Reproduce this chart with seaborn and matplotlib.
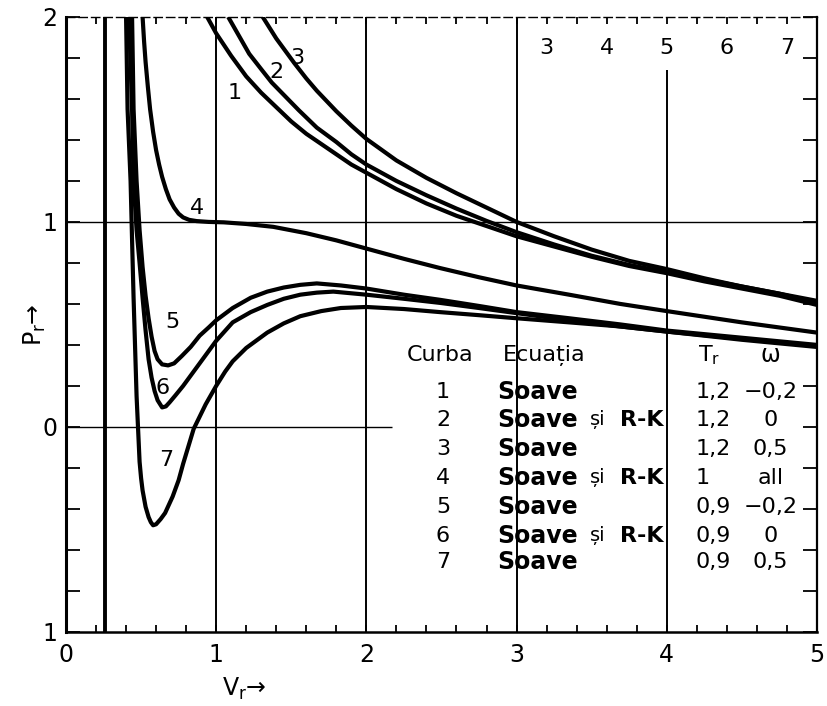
import numpy as np
import pandas as pd
import seaborn as sns
import matplotlib.pyplot as plt
from matplotlib.ticker import MultipleLocator, FixedLocator

# izoterme (V_r, P_r)
v1 = [0.94, 1.0, 1.1, 1.2, 1.3, 1.4, 1.5, 1.6, 1.7, 1.8, 1.9, 2.0, 2.2, 2.4, 2.6, 2.8, 3.0, 3.25, 3.5, 3.75, 4.0, 4.25, 4.5, 4.75, 5.0]
p1 = [2.0, 1.92, 1.81, 1.71, 1.63, 1.56, 1.49, 1.43, 1.38, 1.33, 1.28, 1.24, 1.16, 1.09, 1.03, 0.98, 0.93, 0.88, 0.83, 0.785, 0.75, 0.71, 0.675, 0.64, 0.595]

v2 = [1.08, 1.15, 1.22, 1.30, 1.37, 1.45, 1.55, 1.67, 1.8, 1.9, 2.0, 2.2, 2.4, 2.6, 2.8, 3.0, 3.25, 3.5, 3.75, 4.0, 4.25, 4.5, 4.75, 5.0]
p2 = [2.0, 1.91, 1.82, 1.745, 1.68, 1.62, 1.545, 1.46, 1.39, 1.33, 1.28, 1.20, 1.13, 1.065, 1.005, 0.95, 0.89, 0.835, 0.79, 0.755, 0.72, 0.685, 0.65, 0.605]

v3 = [1.31, 1.40, 1.52, 1.6, 1.67, 1.8, 1.9, 2.0, 2.2, 2.4, 2.6, 2.8, 3.0, 3.25, 3.5, 3.75, 4.0, 4.25, 4.5, 4.75, 5.0]
p3 = [2.0, 1.895, 1.775, 1.70, 1.64, 1.54, 1.47, 1.405, 1.30, 1.215, 1.14, 1.07, 1.0, 0.93, 0.865, 0.81, 0.77, 0.725, 0.685, 0.65, 0.615]

v4 = [0.51, 0.52, 0.53, 0.545, 0.56, 0.58, 0.60, 0.62, 0.64, 0.665, 0.69, 0.72, 0.75, 0.78, 0.82, 0.87, 0.95, 1.05, 1.2, 1.38, 1.6, 1.8, 2.0, 2.25, 2.49, 2.75, 3.0, 3.35, 3.69, 4.0, 4.5, 5.0]
p4 = [2.0, 1.88, 1.78, 1.66, 1.55, 1.44, 1.35, 1.28, 1.22, 1.16, 1.11, 1.07, 1.04, 1.022, 1.01, 1.004, 1.0, 0.998, 0.99, 0.976, 0.945, 0.91, 0.87, 0.82, 0.775, 0.73, 0.69, 0.645, 0.60, 0.565, 0.51, 0.46]

v5 = [0.44, 0.45, 0.47, 0.49, 0.51, 0.53, 0.55, 0.57, 0.59, 0.61, 0.64, 0.68, 0.72, 0.77, 0.83, 0.89, 0.95, 1.0, 1.11, 1.23, 1.34, 1.45, 1.56, 1.67, 1.83, 2.0, 2.25, 2.49, 2.75, 3.0, 3.35, 3.69, 4.0, 4.5, 5.0]
p5 = [2.0, 1.55, 1.2, 0.96, 0.78, 0.64, 0.53, 0.44, 0.37, 0.33, 0.305, 0.30, 0.31, 0.345, 0.39, 0.445, 0.485, 0.52, 0.58, 0.63, 0.66, 0.68, 0.693, 0.70, 0.69, 0.675, 0.645, 0.62, 0.59, 0.56, 0.53, 0.50, 0.47, 0.435, 0.40]

v6 = [0.42, 0.44, 0.45, 0.47, 0.49, 0.51, 0.53, 0.55, 0.57, 0.59, 0.61, 0.64, 0.665, 0.69, 0.73, 0.78, 0.84, 0.89, 0.95, 1.0, 1.11, 1.23, 1.34, 1.45, 1.56, 1.67, 1.78, 2.0, 2.25, 2.49, 2.75, 3.0, 3.35, 3.69, 4.0, 4.5, 5.0]
p6 = [2.0, 1.55, 1.2, 0.96, 0.80, 0.63, 0.47, 0.33, 0.24, 0.175, 0.13, 0.095, 0.10, 0.12, 0.155, 0.20, 0.26, 0.31, 0.37, 0.42, 0.51, 0.56, 0.595, 0.625, 0.645, 0.655, 0.66, 0.645, 0.625, 0.605, 0.58, 0.555, 0.52, 0.49, 0.465, 0.43, 0.395]

v7 = [0.40, 0.41, 0.43, 0.44, 0.45, 0.47, 0.49, 0.50, 0.51, 0.53, 0.55, 0.565, 0.58, 0.60, 0.63, 0.66, 0.71, 0.75, 0.78, 0.85, 0.89, 0.93, 1.0, 1.06, 1.11, 1.2, 1.34, 1.45, 1.56, 1.7, 1.83, 2.0, 2.25, 2.49, 2.75, 3.0, 3.35, 3.69, 4.0, 4.5, 5.0]
p7 = [2.0, 1.55, 1.2, 0.91, 0.63, 0.15, -0.17, -0.25, -0.31, -0.39, -0.44, -0.465, -0.48, -0.475, -0.45, -0.42, -0.34, -0.26, -0.18, -0.01, 0.05, 0.11, 0.20, 0.27, 0.32, 0.385, 0.46, 0.505, 0.54, 0.565, 0.58, 0.585, 0.575, 0.56, 0.545, 0.53, 0.51, 0.49, 0.465, 0.425, 0.39]

curbe = [(v1, p1), (v2, p2), (v3, p3), (v4, p4), (v5, p5), (v6, p6), (v7, p7)]

# etichetele curbelor
curve_ids = ['1', '2', '3', '4', '5', '6', '7']
label_v = [1.12, 1.40, 1.54, 0.87, 0.71, 0.64, 0.67]
label_p = [1.63, 1.73, 1.80, 1.07, 0.51, 0.19, -0.16]

# tabelul din dreapta jos
ecuatii = ['Soave', 'Soave și R-K', 'Soave', 'Soave și R-K', 'Soave', 'Soave și R-K', 'Soave']
tr_vals = ['1,2', '1,2', '1,2', '1', '0,9', '0,9', '0,9']
omega_vals = ['\u22120,2', '0', '0,5', 'all', '\u22120,2', '0', '0,5']

top_labels = ['3', '4', '5', '6', '7']
top_v = [3.2, 3.6, 4.0, 4.4, 4.8]

rows = []
for i, (v, p) in enumerate(curbe):
    for a, b in zip(v, p):
        rows.append({'curba': curve_ids[i], 'V': a, 'P': b})
df = pd.DataFrame(rows)

sns.set_style('ticks')
plt.rcParams['font.family'] = ['DejaVu Sans']
plt.rcParams['text.color'] = 'black'
plt.rcParams['axes.labelcolor'] = 'black'
plt.rcParams['xtick.color'] = 'black'
plt.rcParams['ytick.color'] = 'black'
plt.rcParams['lines.solid_joinstyle'] = 'round'
plt.rcParams['lines.solid_capstyle'] = 'butt'

fig = plt.figure(figsize=(8.27, 7.06), dpi=100)
ax = fig.add_axes([0.0798, 0.105, 0.908, 0.871])

# linii de referinta
ax.axvline(0.26, color='black', lw=2.8)
for xv in [1, 2, 3]:
    ax.axvline(xv, color='black', lw=1.4)
ax.plot([4, 4], [-1, 1.74], color='black', lw=1.4)
ax.axhline(1, color='black', lw=1.0)
ax.plot([0, 2.17], [0, 0], color='black', lw=1.0)

sns.lineplot(data=df, x='V', y='P', units='curba', estimator=None, sort=False,
             color='black', linewidth=3.0, ax=ax, legend=False)

ax.set_xlim(0, 5)
ax.set_ylim(-1, 2)
ax.xaxis.set_major_locator(FixedLocator([0, 1, 2, 3, 4, 5]))
ax.xaxis.set_minor_locator(MultipleLocator(0.2))
ax.yaxis.set_major_locator(FixedLocator([-1, 0, 1, 2]))
ax.set_yticklabels(['1', '0', '1', '2'])
ax.yaxis.set_minor_locator(MultipleLocator(0.2))
ax.tick_params(axis='x', which='both', direction='in', top=True, bottom=True,
               length=5, width=1.3, labelsize=17, pad=8)
ax.tick_params(axis='y', which='both', direction='in', left=True, right=True,
               length=10, width=1.3, labelsize=17, pad=6)

for side, lw in [('left', 2.2), ('bottom', 1.8), ('right', 1.6), ('top', 1.0)]:
    ax.spines[side].set_linewidth(lw)
    ax.spines[side].set_color('black')
ax.spines['top'].set_linestyle((0, (6, 3)))

ax.set_xlabel('V$_\\mathrm{r}$\u2192', fontsize=17)
ax.set_ylabel('P$_\\mathrm{r}$\u2192', fontsize=17)
ax.xaxis.set_label_coords(0.238, -0.072)
ax.yaxis.set_label_coords(-0.024, 0.5)

for t, x, y in zip(curve_ids, label_v, label_p):
    ax.text(x, y, t, fontsize=16, ha='center', va='center')

for t, x in zip(top_labels, top_v):
    ax.text(x, 1.85, t, fontsize=16, ha='center', va='center')

# tabel
ax.text(2.27, 0.35, 'Curba', fontsize=16, ha='left', va='center')
ax.text(2.91, 0.35, 'Ecuația', fontsize=16, ha='left', va='center')
ax.text(4.28, 0.35, 'T$_\\mathrm{r}$', fontsize=16, ha='center', va='center')
ax.text(4.69, 0.35, '\u03c9', fontsize=17, ha='center', va='center')
row_p = [0.17, 0.034, -0.107, -0.249, -0.39, -0.53, -0.66]
for i, y in enumerate(row_p):
    ax.text(2.51, y, curve_ids[i], fontsize=16, ha='center', va='center')
    ax.text(2.87, y, 'Soave', fontsize=17, fontweight='bold', ha='left', va='center')
    if 'R-K' in ecuatii[i]:
        ax.text(3.49, y, 'și', fontsize=14, ha='left', va='center')
        ax.text(3.69, y, 'R-K', fontsize=16, fontweight='bold', ha='left', va='center')
    ax.text(4.19, y, tr_vals[i], fontsize=16, ha='left', va='center')
    ax.text(4.69, y, omega_vals[i], fontsize=16, ha='center', va='center')

fig.savefig('out.png', dpi=100)
